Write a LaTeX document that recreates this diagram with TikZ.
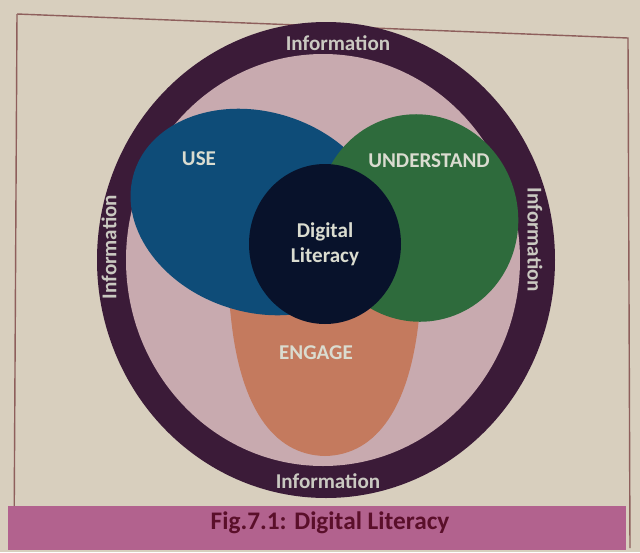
\documentclass[tikz,border=0pt]{standalone}
\usepackage{xcolor}
\usepackage{fontspec}
\setmainfont{Carlito}
\usetikzlibrary{positioning}

\definecolor{paper}{HTML}{D8CFBE}
\definecolor{frameline}{HTML}{8E5F5C}
\definecolor{ring}{HTML}{3B1B38}
\definecolor{inner}{HTML}{C8AAAF}
\definecolor{useblue}{HTML}{0E4C78}
\definecolor{undgreen}{HTML}{2E6B3C}
\definecolor{engorange}{HTML}{C47A5E}
\definecolor{core}{HTML}{08122B}
\definecolor{band}{HTML}{B2628E}
\definecolor{captext}{HTML}{5A0F2A}
\definecolor{labtext}{HTML}{DADCD0}

\begin{document}
\begin{tikzpicture}[x=0.02cm, y=-0.02cm,
    lab/.style={font=\large\bfseries, text=labtext, inner sep=0pt},
    info/.style={font=\large\bfseries, text=labtext!90!ring, inner sep=0pt},
    figcap/.style={font=\Large\bfseries, text=captext, inner sep=0pt},
]
\useasboundingbox (0,0) rectangle (640,552);
\fill[paper] (0,0) rectangle (640,552);

% Page frame
\draw[frameline, line width=0.8pt] (17,14) -- (628,38) -- (630,548);
\draw[frameline, line width=0.8pt] (17,14) -- (14,548);

% Information ring
\fill[ring] (326,260) ellipse [x radius=229, y radius=238];
\fill[inner] (323,260) ellipse [x radius=197, y radius=206];

% Engage area (flat top, round bottom)
\fill[engorange] (229,300) -- (420,300) -- (419,318)
    .. controls (410,405) and (378,455) .. (325,456)
    .. controls (272,455) and (240,405) .. (231,318) -- cycle;

% Use and understand areas, core on top
\fill[useblue, rotate around={-18:(258,212)}] (258,212) ellipse [x radius=130, y radius=100];
\fill[undgreen, rotate around={15:(418,218)}] (418,218) ellipse [x radius=100, y radius=104];
\fill[core] (325,244) ellipse [x radius=76, y radius=80];

% Labels
\node[lab] (use) at (199,159) {USE};
\node[lab] (und) at (429,161) {UNDERSTAND};
\node[lab] (eng) at (316,353) {ENGAGE};
\node[lab, align=center] (dl) at (325,244) {Digital\\Literacy};

\node[info] (infoT) at (338,43) {Information};
\node[info] (infoB) at (328,481) {Information};
\node[info, rotate=90] (infoL) at (109,247) {Information};
\node[info, rotate=-90] (infoR) at (535,240) {Information};

% Caption band
\fill[band] (8,506) rectangle (626,550);
\node[figcap] (fig) at (330,523) {Fig.7.1: Digital Literacy};
\end{tikzpicture}
\end{document}
